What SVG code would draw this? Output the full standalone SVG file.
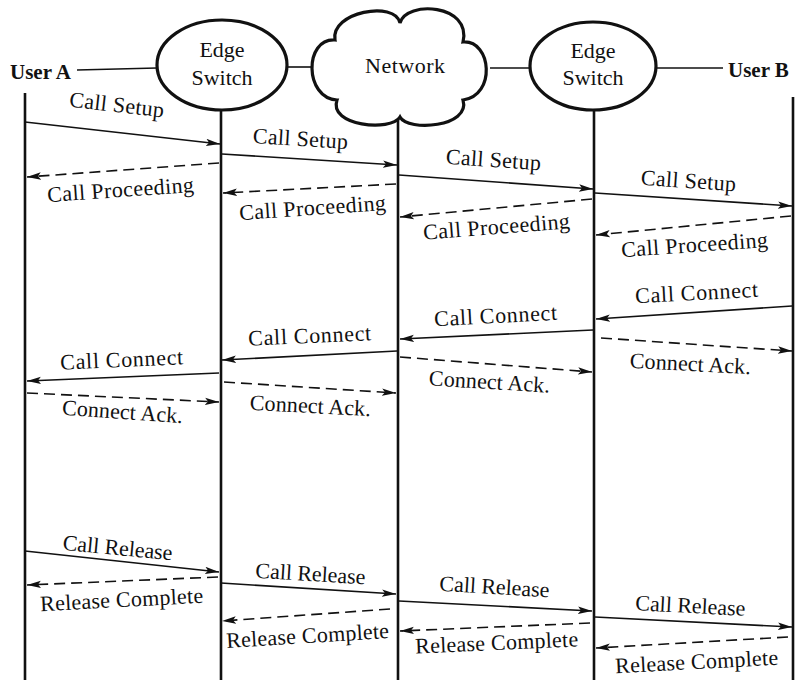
<svg xmlns="http://www.w3.org/2000/svg" width="806" height="680" viewBox="0 0 806 680">
<style>
text{font-family:"Liberation Serif","Times New Roman",serif;font-size:22px;fill:#111;}
.hdr{font-weight:bold;font-size:21px;}
.c{text-anchor:middle;}
.life{stroke:#111;stroke-width:2.6;fill:none;}
.link{stroke:#111;stroke-width:1.6;fill:none;}
.shape{stroke:#111;stroke-width:3.2;fill:#fff;}
.msg{stroke:#111;stroke-width:1.6;fill:none;marker-end:url(#ah);}
.dash{stroke-dasharray:11 6;}
</style>
<defs>
<marker id="ah" markerUnits="userSpaceOnUse" markerWidth="16" markerHeight="10" refX="14" refY="4.5" orient="auto">
<path d="M0,0.8 L14,4.5 L0,8.2 L3,4.5 z" fill="#111"/>
</marker>
</defs>
<rect width="806" height="680" fill="#fff"/>

<g id="header-links">
<line class="link" x1="77" y1="70" x2="157" y2="68"/>
<line class="link" x1="287" y1="67" x2="312" y2="67"/>
<line class="link" x1="490" y1="68" x2="530" y2="68"/>
<line class="link" x1="657" y1="68" x2="723" y2="68"/>
</g>

<g id="lifelines">
<line class="life" x1="25" y1="93" x2="25" y2="680"/>
<line class="life" x1="221" y1="110" x2="221" y2="680"/>
<line class="life" x1="398" y1="117" x2="398" y2="680"/>
<line class="life" x1="594" y1="110" x2="594" y2="680"/>
<line class="life" x1="793" y1="97" x2="793" y2="680"/>
</g>

<g id="userA"><text class="hdr" x="10" y="79">User A</text></g>
<g id="switch1">
<ellipse class="shape" cx="222" cy="65" rx="65" ry="45"/>
<text class="c" x="222" y="57">Edge</text>
<text class="c" x="222" y="85">Switch</text>
</g>
<g id="network">
<path class="shape" d="M335,40 C330,12 395,0 400,23 C406,0 472,4 463,42 C492,40 496,96 463,100 C471,127 408,132 400,117 C391,132 328,126 337,100 C304,98 304,38 335,40 Z"/>
<text class="c" x="405" y="73" textLength="80">Network</text>
</g>
<g id="switch2">
<ellipse class="shape" cx="593" cy="66" rx="63" ry="44"/>
<text class="c" x="593" y="58">Edge</text>
<text class="c" x="593" y="85">Switch</text>
</g>
<g id="userB"><text class="hdr" x="728" y="77">User B</text></g>

<g id="connectors">
<line class="msg" x1="25" y1="122" x2="220" y2="144"/>
<line class="msg" x1="222" y1="154" x2="397" y2="165"/>
<line class="msg" x1="399" y1="175" x2="593" y2="189"/>
<line class="msg" x1="595" y1="193" x2="792" y2="206"/>
<line class="msg dash" x1="219" y1="163" x2="27" y2="177"/>
<line class="msg dash" x1="396" y1="184" x2="223" y2="193"/>
<line class="msg dash" x1="592" y1="199" x2="400" y2="217"/>
<line class="msg dash" x1="791" y1="216" x2="596" y2="235"/>
<line class="msg" x1="792" y1="306" x2="596" y2="319"/>
<line class="msg" x1="593" y1="330" x2="400" y2="339"/>
<line class="msg" x1="397" y1="351" x2="222" y2="360"/>
<line class="msg" x1="219" y1="373" x2="27" y2="381"/>
<line class="msg dash" x1="27" y1="393" x2="219" y2="402"/>
<line class="msg dash" x1="224" y1="382" x2="396" y2="393"/>
<line class="msg dash" x1="400" y1="357" x2="592" y2="372"/>
<line class="msg dash" x1="601" y1="338" x2="792" y2="351"/>
<line class="msg" x1="25" y1="551" x2="219" y2="572"/>
<line class="msg" x1="221" y1="583" x2="396" y2="594"/>
<line class="msg" x1="399" y1="601" x2="592" y2="611"/>
<line class="msg" x1="595" y1="617" x2="792" y2="627"/>
<line class="msg dash" x1="218" y1="577" x2="27" y2="585"/>
<line class="msg dash" x1="390" y1="609" x2="222" y2="621"/>
<line class="msg dash" x1="590" y1="623" x2="400" y2="631"/>
<line class="msg dash" x1="788" y1="637" x2="596" y2="648"/>
</g>

<g id="labels">
<text class="c" x="116" y="112" textLength="95" transform="rotate(6.5 116 112)">Call Setup</text>
<text class="c" x="300" y="146" textLength="95" transform="rotate(3.6 300 146)">Call Setup</text>
<text class="c" x="493" y="167" textLength="95" transform="rotate(4 493 167)">Call Setup</text>
<text class="c" x="688" y="188" textLength="95" transform="rotate(4 688 188)">Call Setup</text>
<text class="c" x="121" y="197" textLength="147" transform="rotate(-4 121 197)">Call Proceeding</text>
<text class="c" x="313" y="215" textLength="147" transform="rotate(-4 313 215)">Call Proceeding</text>
<text class="c" x="497" y="234" textLength="147" transform="rotate(-4.5 497 234)">Call Proceeding</text>
<text class="c" x="695" y="252" textLength="147" transform="rotate(-4 695 252)">Call Proceeding</text>
<text class="c" x="697" y="300" textLength="123" transform="rotate(-3 697 300)">Call Connect</text>
<text class="c" x="496" y="323" textLength="123" transform="rotate(-3 496 323)">Call Connect</text>
<text class="c" x="310" y="343" textLength="123" transform="rotate(-2.5 310 343)">Call Connect</text>
<text class="c" x="122" y="367" textLength="123" transform="rotate(-2.5 122 367)">Call Connect</text>
<text class="c" x="122" y="419" textLength="121" transform="rotate(4 122 419)">Connect Ack.</text>
<text class="c" x="310" y="413" textLength="121" transform="rotate(3 310 413)">Connect Ack.</text>
<text class="c" x="489" y="389" textLength="121" transform="rotate(3.5 489 389)">Connect Ack.</text>
<text class="c" x="690" y="371" textLength="121" transform="rotate(3 690 371)">Connect Ack.</text>
<text class="c" x="117" y="555" textLength="110" transform="rotate(5.5 117 555)">Call Release</text>
<text class="c" x="310" y="581" textLength="110" transform="rotate(3.5 310 581)">Call Release</text>
<text class="c" x="494" y="594" textLength="110" transform="rotate(3.5 494 594)">Call Release</text>
<text class="c" x="690" y="613" textLength="110" transform="rotate(3 690 613)">Call Release</text>
<text class="c" x="122" y="607" textLength="163" transform="rotate(-3 122 607)">Release Complete</text>
<text class="c" x="308" y="643" textLength="163" transform="rotate(-3.5 308 643)">Release Complete</text>
<text class="c" x="497" y="650" textLength="163" transform="rotate(-2.5 497 650)">Release Complete</text>
<text class="c" x="697" y="669" textLength="163" transform="rotate(-3 697 669)">Release Complete</text>
</g>
</svg>
